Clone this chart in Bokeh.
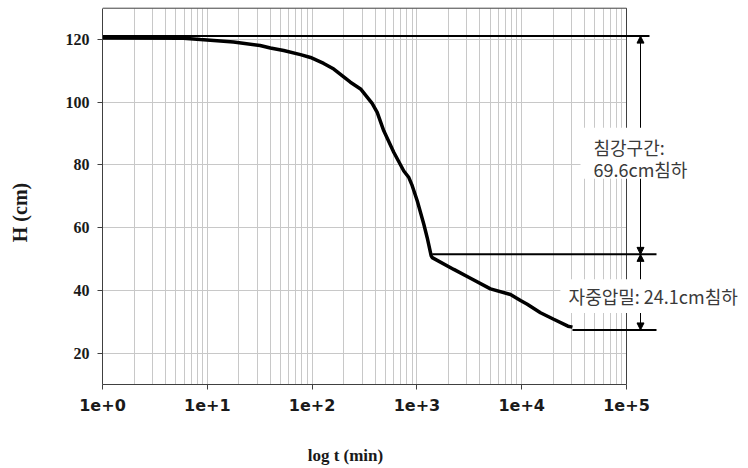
import math

from bokeh.embed import file_html
from bokeh.models import Arrow, BoxAnnotation, FixedTicker, Label, NormalHead, Range1d
from bokeh.plotting import figure
from bokeh.resources import INLINE

# Consolidation test: height of the column (cm) against elapsed time (min)
t_min = [1, 5.9, 8.6, 17.8, 31.9, 40, 53.5, 77.5, 96.5, 129, 161, 232, 290, 374, 418,
         483, 603, 750, 838, 902, 1007, 1164, 1254, 1369, 1400, 2250, 3245, 5035,
         7815, 9740, 11300, 15100, 20200, 27600, 30500]
H_cm = [120.5, 120.45, 120.0, 119.2, 118.1, 117.3, 116.5, 115.2, 114.3, 112.4, 110.6,
        106.4, 104.25, 99.65, 96.8, 90.9, 84.0, 78.1, 76.0, 73.4, 68.6, 61.1, 56.8,
        51.0, 50.45, 46.7, 43.9, 40.5, 38.7, 36.8, 35.6, 32.9, 30.8, 28.6, 28.3]

# Reference levels and the two settlement stages
H_initial = 121.1
settle_sedimentation = 69.6   # 침강구간
settle_selfweight = 24.1      # 자중압밀
H_end_sedimentation = H_initial - settle_sedimentation
H_final = H_end_sedimentation - settle_selfweight
t_end_sedimentation = 1400
t_final = 30500

x_major = [1, 10, 100, 1000, 10000, 100000]
x_tick_labels = ["1e+0", "1e+1", "1e+2", "1e+3", "1e+4", "1e+5"]
y_ticks = [20, 40, 60, 80, 100, 120]
x_lo, x_hi = 1, 1e5
y_lo, y_hi = 10, 130

# The frame runs on to the right edge so the dimension notes have room;
# axes, grid and border are bounded to the plotted region.
p = figure(width=748, height=468, x_axis_type="log",
           x_range=Range1d(1, 1.459e6), y_range=Range1d(10, 132.46),
           output_backend="svg", toolbar_location=None, title=None,
           min_border_left=102, min_border_right=0,
           min_border_top=0, min_border_bottom=84,
           background_fill_color="white", border_fill_color="white")
p.outline_line_color = None

grid_gray = "#c8c8c8"
axis_gray = "#404040"

x_minor = [m * d for d in x_major[:-1] for m in range(2, 10)]
p.xaxis.ticker = FixedTicker(ticks=x_major, minor_ticks=x_minor)
p.xaxis.major_label_overrides = {t: lab for t, lab in zip(x_major, x_tick_labels)}
p.yaxis.ticker = FixedTicker(ticks=y_ticks, minor_ticks=[])
p.xaxis.bounds = (x_lo, x_hi)
p.yaxis.bounds = (y_lo, y_hi)

for ax in (p.xaxis, p.yaxis):
    ax.axis_line_color = axis_gray
    ax.major_tick_line_color = axis_gray
    ax.minor_tick_line_color = None
    ax.major_tick_in = 0
    ax.major_tick_out = 5
    ax.major_label_text_color = "#1a1a1a"
    ax.major_label_text_font_style = "bold"

p.xaxis.major_label_text_font = "DejaVu Sans"
p.xaxis.major_label_text_font_size = "16px"
p.xaxis.major_label_standoff = 9
p.yaxis.major_label_text_font = "Liberation Serif"
p.yaxis.major_label_text_font_size = "16px"
p.yaxis.major_label_standoff = 8

p.xgrid.grid_line_color = grid_gray
p.xgrid.minor_grid_line_color = grid_gray
p.xgrid.bounds = (x_lo, x_hi)
p.xgrid.cross_bounds = (y_lo, y_hi)
p.ygrid.grid_line_color = grid_gray
p.ygrid.bounds = (y_lo, y_hi)
p.ygrid.cross_bounds = (x_lo, x_hi)

# top and right border of the plotted region
p.segment(x0=[x_lo, x_hi], y0=[y_hi, y_lo], x1=[x_hi, x_hi], y1=[y_hi, y_hi],
          line_color=axis_gray, line_width=1)

# measured curve
p.line(t_min, H_cm, line_color="black", line_width=3.5)

# horizontal reference levels
x_arrow = 136000
p.segment(x0=[1, t_end_sedimentation, t_final],
          y0=[H_initial, H_end_sedimentation, H_final],
          x1=[165700, 193300, 193300],
          y1=[H_initial, H_end_sedimentation, H_final],
          line_color="black", line_width=2)

# dimension arrows
for (y0, y1) in [(H_end_sedimentation, H_initial), (H_final, H_end_sedimentation)]:
    p.add_layout(Arrow(x_start=x_arrow, y_start=y0, x_end=x_arrow, y_end=y1,
                       start=NormalHead(size=7, fill_color="black", line_color="black"),
                       end=NormalHead(size=7, fill_color="black", line_color="black"),
                       line_color="black", line_width=1))

# white boxes behind the notes
p.add_layout(BoxAnnotation(left=36400, right=508000, bottom=75.6, top=91.9,
                           fill_color="white", fill_alpha=1, line_color=None))
p.add_layout(BoxAnnotation(left=23400, right=1.46e6, bottom=32.8, top=43.6,
                           fill_color="white", fill_alpha=1, line_color=None))

kfont = "Noto Sans CJK KR"
kcolor = "#3a3a3a"
p.add_layout(Label(x=48400, y=85.7, text="침강구간:", text_font=kfont,
                   text_font_size="18px", text_color=kcolor, text_baseline="middle"))
p.add_layout(Label(x=48400, y=78.6, text=f"{settle_sedimentation}cm침하", text_font=kfont,
                   text_font_size="18px", text_color=kcolor, text_baseline="middle"))
p.add_layout(Label(x=28000, y=38.1, text=f"자중압밀: {settle_selfweight}cm침하", text_font=kfont,
                   text_font_size="18px", text_color=kcolor, text_baseline="middle"))

# axis titles, placed in the side panels
p.add_layout(Label(x=208, y=-12.6, text="log t (min)", text_font="Liberation Serif",
                   text_font_style="bold", text_font_size="17px", text_color="#1a1a1a",
                   text_align="center", text_baseline="middle"), "below")
p.add_layout(Label(x=0.165, y=64.85, text="H (cm)", text_font="Liberation Serif",
                   text_font_style="bold", text_font_size="20px", text_color="#1a1a1a",
                   text_align="center", text_baseline="middle", angle=math.pi / 2), "left")

open("out.html", "w").write(file_html(p, INLINE))
